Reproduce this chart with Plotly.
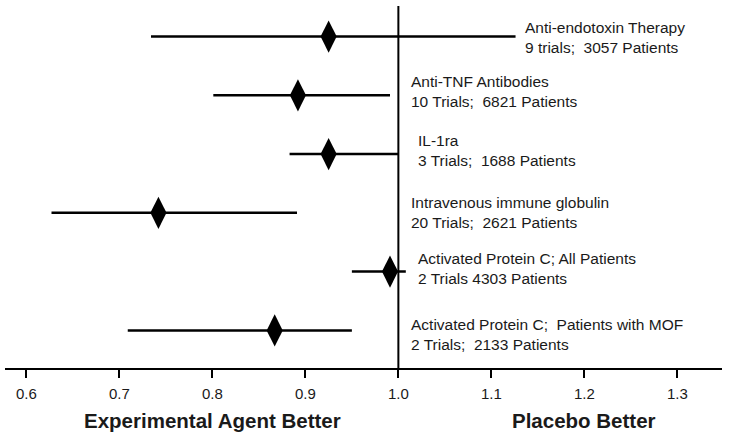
import plotly.graph_objects as go

# ---- data ----
names = [
    "Anti-endotoxin Therapy",
    "Anti-TNF Antibodies",
    "IL-1ra",
    "Intravenous immune globulin",
    "Activated Protein C; All Patients",
    "Activated Protein C;\u00a0 Patients with MOF",
]
trial_info = [
    "9 trials;\u00a0 3057 Patients",
    "10 Trials;\u00a0 6821 Patients",
    "3 Trials;\u00a0 1688 Patients",
    "20 Trials;\u00a0 2621 Patients",
    "2 Trials 4303 Patients",
    "2 Trials;\u00a0 2133 Patients",
]
estimate = [0.925, 0.892, 0.925, 0.742, 0.991, 0.867]
lower = [0.734, 0.801, 0.883, 0.627, 0.950, 0.709]
upper = [1.126, 0.991, 1.000, 0.891, 1.008, 0.950]
tick_values = [0.6, 0.7, 0.8, 0.9, 1.0, 1.1, 1.2, 1.3]
tick_labels = ["0.6", "0.7", "0.8", "0.9", "1.0", "1.1", "1.2", "1.3"]
reference_value = 1.0
side_labels = ["Experimental Agent Better", "Placebo Better"]
side_label_x = [0.8, 1.2]

FONT = "Arial, Liberation Sans, sans-serif"
INK = "#1a1a1a"

fig = go.Figure()

fig.add_trace(go.Scatter(
    x=estimate,
    y=names,
    mode="markers",
    marker=dict(symbol="diamond-tall", size=23, color="black", line=dict(width=0)),
    error_x=dict(
        type="data",
        symmetric=False,
        array=[u - e for u, e in zip(upper, estimate)],
        arrayminus=[e - l for e, l in zip(estimate, lower)],
        color="black",
        thickness=2.5,
        width=0,
    ),
    showlegend=False,
    hoverinfo="skip",
))

# reference line at 1.0
fig.add_shape(type="line", xref="x", yref="paper",
              x0=reference_value, x1=reference_value, y0=0, y1=1,
              line=dict(color="black", width=2))

# row labels (position offsets are layout)
label_x = [1.134, 1.011, 1.019, 1.011, 1.019, 1.011]
label_shift = [-1, 4, 4, 0, 3, -4]
for n, t, lx, ys in zip(names, trial_info, label_x, label_shift):
    fig.add_annotation(x=lx, y=n, xref="x", yref="y",
                       text=n + "<br>" + t, showarrow=False,
                       xanchor="left", yanchor="middle", align="left",
                       yshift=ys,
                       font=dict(family=FONT, size=15.5, color=INK))

for s, sx in zip(side_labels, side_label_x):
    fig.add_annotation(x=sx, y=-0.145, xref="x", yref="paper",
                       text="<b>" + s + "</b>", showarrow=False,
                       xanchor="center", yanchor="middle",
                       font=dict(family=FONT, size=20.5, color=INK))

fig.update_layout(
    width=729, height=444,
    margin=dict(l=5, r=7, t=6, b=76),
    paper_bgcolor="white", plot_bgcolor="white",
    font=dict(family=FONT, color=INK),
    xaxis=dict(
        range=[0.577, 1.348],
        tickvals=tick_values, ticktext=tick_labels,
        showline=True, linecolor="black", linewidth=2,
        ticks="outside", ticklen=8, tickwidth=2, tickcolor="black",
        ticklabelstandoff=3,
        tickfont=dict(family=FONT, size=15, color=INK),
        showgrid=False, zeroline=False,
    ),
    yaxis=dict(
        type="category",
        categoryorder="array", categoryarray=names,
        range=[5.64, -0.52],
        showticklabels=False, showgrid=False, zeroline=False, showline=False,
        ticks="",
    ),
)

fig.write_html("out.html", config={"displayModeBar": False},
               post_script="document.body.style.margin='0';")
